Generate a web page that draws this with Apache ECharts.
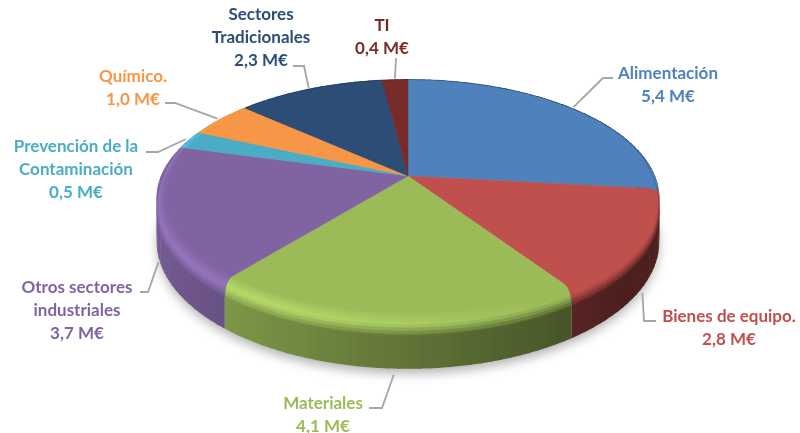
<!DOCTYPE html>
<html><head><meta charset="utf-8">
<style>html,body{margin:0;padding:0;background:#fff}#c{width:800px;height:433px}</style>
<script src="https://cdn.jsdelivr.net/npm/echarts@6/dist/echarts.min.js"></script>
</head><body><div id="c"></div>
<script>
const categories = ['Alimentación','Bienes de equipo.','Materiales','Otros sectores\nindustriales','Prevención de la\nContaminación','Químico.','Sectores\nTradicionales','TI'];
const values = [5.4,2.8,4.1,3.7,0.5,1.0,2.3,0.4];
const colors = ['#4F81BD','#C0504D','#9BBB59','#8064A2','#4BACC6','#F79646','#2C4D75','#772C2A'];
const labelColors = ['#4F81BD','#C0504D','#9BBB59','#8064A2','#4BACC6','#F79646','#2C4D75','#772C2A'];
const labelCenters = [[668,85],[729,328],[323,415],[77,311],[76,170],[133,88],[261,38],[382,37]];
const elbows = [[[603,78],[613,78]],[[644,321],[656,321]],[[382,408],[369,408]],[[148,292],[140,292]],[[158,152],[146,152]],[[175,103],[165,103]],[[304,66],[293,66]],[[396,58]]];

const CX=408, CY=176, R=246.6, H=114.6, K=0.193, WALL=41;
const total = values.reduce((a,b)=>a+b,0);
const starts = []; values.reduce((a,v,i)=>(starts[i]=a,a+v),0);
const ang = v => v/total*Math.PI*2;
const clamp=(x,a,b)=>Math.max(a,Math.min(b,x));
function proj(t,r,dz){
  const u=Math.sin(t)*r, v=-Math.cos(t)*r, s=1/(1-K*v);
  return [CX+R*u*s, CY+H*v*s+(dz||0)*s];
}
function rgb(h){return [1,3,5].map(i=>parseInt(h.substr(i,2),16));}
function css(c){return 'rgb('+c.map(x=>Math.round(clamp(x,0,255))).join(',')+')';}
function mix(a,b,t){return a.map((x,i)=>x+(b[i]-x)*t);}
function wallF(u){return clamp(0.62-0.3*u,0.4,0.9);}
const STEP=Math.PI/90, OVER=0.006;
function steps(i){
  const a=ang(starts[i]), b=ang(starts[i]+values[i]), n=Math.max(2,Math.ceil((b-a)/STEP));
  const out=[]; for(let k=0;k<=n;k++) out.push(a+(b-a)*k/n); return out;
}
function renderShadow(){
  const pts=[]; for(let k=0;k<180;k++) pts.push(proj(k/180*Math.PI*2,0.995,WALL));
  return {type:'polygon',shape:{points:pts},style:{fill:'#bbb',shadowColor:'rgba(0,0,0,0.33)',shadowBlur:12,shadowOffsetY:5}};
}
function renderWall(p,api){
  const i=p.dataIndex, base=rgb(colors[i]), ts=steps(i), ch=[];
  for(let k=0;k<ts.length-1;k++){
    const f=wallF(Math.sin((ts[k]+ts[k+1])/2));
    const c=css(base.map(x=>x*f));
    const e=k<ts.length-2?ts[k+1]+OVER:ts[k+1];
    const pts=[proj(ts[k],1,-1),proj(e,1,-1),proj(e,1,WALL),proj(ts[k],1,WALL)];
    ch.push({type:'polygon',shape:{points:pts},style:{fill:c}});
  }
  return {type:'group',children:ch};
}
function renderFace(p,api){
  const i=p.dataIndex, ts=steps(i), pts=[[CX,CY]];
  ts.forEach(t=>pts.push(proj(t,1,0)));
  return {type:'polygon',shape:{points:pts},style:{fill:colors[i],stroke:colors[i],lineWidth:0.4}};
}
function renderBevel(p,api){
  const i=p.dataIndex, base=rgb(colors[i]), ts=steps(i), ch=[], L=9;
  const ring=(t,q)=>{
    const v=-Math.cos(t);
    const rw=0.035*clamp((v+0.7)/0.6,0,1), dz=14*clamp((v+0.2)/0.5,0,1);
    const e=Math.sin(q*Math.PI/2);
    return proj(t,1-rw+rw*e,dz*(1-Math.cos(q*Math.PI/2)));
  };
  const col=(t,q)=>{
    const u=Math.sin(t), a=clamp((0.5-u)/0.9,0,1);
    const hl=base.map(x=>x*(1+0.17*a));
    const w=base.map(x=>x*wallF(u));
    return q<0.55?mix(base,hl,q/0.55):mix(hl,w,(q-0.55)/0.45);
  };
  // drawn from the outer ring inward, each layer overlapping the one outside it
  for(let k=0;k<ts.length-1;k++){
    const tm=(ts[k]+ts[k+1])/2;
    if(-Math.cos(tm)<-0.7) continue;
    const e=k<ts.length-2?ts[k+1]+OVER:ts[k+1];
    for(let l=L-1;l>=0;l--){
      const q0=l/L,q1=(l+1)/L,c=css(col(tm,(q0+q1)/2));
      const pts=[ring(ts[k],q0),ring(e,q0),ring(e,Math.min(1,q1+0.06)),ring(ts[k],Math.min(1,q1+0.06))];
      ch.push({type:'polygon',shape:{points:pts},style:{fill:c}});
    }
  }
  return {type:'group',children:ch};
}
function renderLabel(p,api){
  const i=p.dataIndex, t=ang(starts[i]+values[i]/2), v=-Math.cos(t);
  const start=v>0?proj(t,1,WALL+5):proj(t,1.02,0);
  const val=api.value(0).toFixed(1).replace('.',',')+' M€';
  return {type:'group',children:[
    {type:'polyline',shape:{points:[start].concat(elbows[i])},style:{fill:'none',stroke:'#A6A6A6',lineWidth:1.8}},
    {type:'text',x:labelCenters[i][0],y:labelCenters[i][1],style:{
      text:categories[i]+'\n'+val,fill:labelColors[i],font:'bold 17px Lato, "Noto Sans", sans-serif',
      align:'center',verticalAlign:'middle',lineHeight:23}}
  ]};
}
const mk=(z,fn,d)=>({type:'custom',coordinateSystem:'none',renderItem:fn,z:z,silent:true,animation:false,progressive:0,data:d||values.map(v=>[v])});
const chart=echarts.init(document.getElementById('c'),null,{renderer:'canvas'});
chart.setOption({backgroundColor:'#fff',animation:false,series:[
  mk(1,renderShadow,[[total]]), mk(2,renderWall), mk(3,renderFace), mk(4,renderBevel), mk(5,renderLabel)
]});
</script></body></html>
